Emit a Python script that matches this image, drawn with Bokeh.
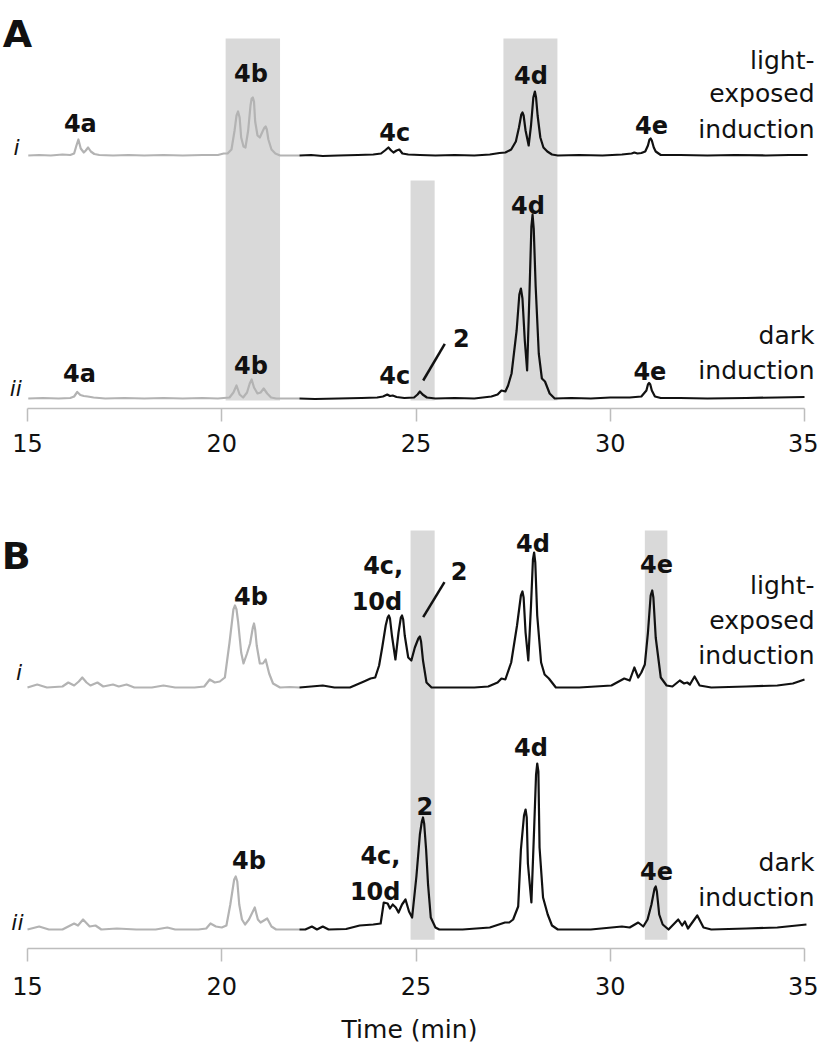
from bokeh.plotting import figure
from bokeh.layouts import column
from bokeh.models import Range1d, FixedTicker
from bokeh.core.properties import value
from bokeh.embed import file_html
from bokeh.resources import INLINE

# ---------------- data (time in min, intensity in arbitrary units) ----------------
TICKS = [15, 20, 25, 30, 35]
SPLIT = 22.0  # gray before, black after

# Panel A, trace i (light-exposed induction)
a1_t = [15.02, 15.3, 15.6, 15.9, 16.1, 16.2, 16.26, 16.31, 16.37, 16.45, 16.5, 16.56, 16.63, 16.72, 16.85,
        17.2, 17.6, 18.0, 18.5, 19.0, 19.5, 19.9, 20.05, 20.15, 20.25, 20.33, 20.38, 20.42, 20.46, 20.5,
        20.56, 20.61, 20.68, 20.74, 20.77, 20.80, 20.83, 20.86, 20.92, 20.98, 21.05, 21.1, 21.13, 21.16,
        21.2, 21.28, 21.38, 21.5, 21.75, 22.0,
        22.3, 22.6, 23.0, 23.5, 23.9, 24.1, 24.2, 24.29, 24.36, 24.42, 24.5, 24.57, 24.65, 24.8, 25.1,
        25.5, 26.0, 26.5, 26.9, 27.15, 27.3, 27.45, 27.57, 27.65, 27.71, 27.74, 27.77, 27.82, 27.90, 27.96,
        28.02, 28.06, 28.09, 28.13, 28.2, 28.28, 28.38, 28.5, 28.65, 29.2, 29.8, 30.3, 30.55, 30.62, 30.7,
        30.8, 30.9, 30.97, 31.01, 31.04, 31.07, 31.12, 31.17, 31.3, 31.8, 32.5, 33.2, 34.0, 34.6, 35.08]
a1_v = [0, 0.5, 0, 1, 0.5, 2, 10, 16, 7, 3, 5, 8, 4, 1.5, 0.5,
        0, 0.5, 0, 0.5, 0, 0.5, 0.5, 2, 2, 6, 25, 40, 44, 38, 18,
        9, 8, 25, 50, 57, 58, 54, 34, 20, 18, 24, 28, 29, 26,
        16, 6, 2, 0, 0, 0,
        0.5, -0.5, 0, 0.5, 1, 2, 5, 8, 5, 3, 5, 6, 2, 1, 0.5,
        0, 0.5, 0, 1, 2.5, 3, 6, 14, 28, 41, 43, 40, 25, 10, 30,
        58, 64, 58, 40, 18, 8, 4, 1, 0, 0.5, 0, 1, 2, 3, 2,
        2.5, 4, 10, 16, 17, 15, 8, 4, 0.5, 0.5, 0, 0.5, 0, 0.5, 0.5]

# Panel A, trace ii (dark induction)
a2_t = [15.02, 15.4, 15.8, 16.1, 16.2, 16.28, 16.36, 16.45, 16.55, 16.7, 17.0, 17.5, 18.0, 18.5, 19.0,
        19.5, 19.9, 20.2, 20.3, 20.38, 20.46, 20.55, 20.65, 20.72, 20.77, 20.83, 20.92, 21.0, 21.08, 21.17,
        21.27, 21.4, 21.7, 22.0,
        22.4, 23.0, 23.6, 24.0, 24.15, 24.26, 24.33, 24.4, 24.5, 24.7, 24.95, 25.04, 25.1, 25.17, 25.28,
        25.5, 26.0, 26.5, 26.94, 27.1, 27.2, 27.3, 27.37, 27.46, 27.59, 27.66, 27.70, 27.74, 27.80, 27.86,
        27.93, 27.97, 28.0, 28.03, 28.08, 28.16, 28.24, 28.32, 28.44, 28.57, 29.0, 29.5, 30.0, 30.5, 30.8,
        30.93, 30.97, 31.0, 31.03, 31.07, 31.15, 31.3, 31.8, 32.5, 33.5, 34.3, 35.0]
a2_v = [0, 0.5, 0, 0.5, 2, 6.5, 3.5, 2.5, 2, 1, 0, 0.5, 0, 0.5, 0,
        0.5, 0, 1, 6, 13, 4, 1, 6, 15, 19, 11, 5, 6, 10, 5,
        1, 0, 0, 0,
        -0.5, 0, 0.5, 1, 2, 4, 2.5, 3, 1.5, 0.5, 1, 4, 7, 4, 1,
        0, 0.5, 0, 2, 4, 8, 7, 13, 25, 68, 104, 110, 100, 58, 28,
        118, 172, 184, 170, 112, 45, 20, 17, 5, 0, 0.5, 0, 1, 1, 2,
        8, 14, 15.5, 14, 8, 2, 0.5, 0.5, 0, 0.5, 1, 1.5]

# Panel B, trace i (light-exposed induction)
b1_t = [15.0, 15.25, 15.5, 15.9, 16.05, 16.2, 16.32, 16.41, 16.52, 16.62, 16.8, 16.95, 17.2, 17.35, 17.55,
        17.75, 18.2, 18.5, 18.8, 19.3, 19.55, 19.69, 19.82, 19.95, 20.08, 20.2, 20.3, 20.34, 20.38, 20.42,
        20.5, 20.56, 20.65, 20.73, 20.8, 20.83, 20.86, 20.9, 20.98, 21.06, 21.13, 21.22, 21.32, 21.5, 21.75,
        22.0,
        22.3, 22.6, 22.9, 23.3, 23.66, 23.83, 23.95, 24.05, 24.13, 24.22, 24.27, 24.30, 24.33, 24.38, 24.47,
        24.55, 24.61, 24.64, 24.67, 24.71, 24.8, 24.88, 24.97, 25.06, 25.10, 25.13, 25.18, 25.27, 25.4, 26.0,
        26.5, 26.86, 27.1, 27.2, 27.3, 27.45, 27.6, 27.70, 27.74, 27.77, 27.82, 27.89, 27.96, 28.01, 28.04,
        28.07, 28.12, 28.22, 28.31, 28.42, 28.6, 29.2, 30.03, 30.36, 30.5, 30.62, 30.72, 30.8, 30.89, 30.97,
        31.04, 31.08, 31.11, 31.17, 31.3, 31.45, 31.6, 31.79, 31.9, 31.98, 32.05, 32.17, 32.3, 32.6, 33.5,
        34.3, 34.7, 35.0]
b1_v = [0, 3, 0, 1, 5, 2, 6, 10, 5, 2, 5, 1, 3, 1, 3,
        0, 0, 2, 0, 0, 1, 8, 5, 6, 10, 45, 78, 82, 78, 66,
        35, 24, 34, 44, 60, 64, 58, 42, 24, 24, 28, 14, 4, 0, 0.5,
        0,
        1, 2, 0, 0, 6, 9, 10, 22, 40, 62, 70, 72, 69, 52, 28,
        55, 70, 72, 68, 52, 30, 27, 40, 49, 51, 46, 27, 5, 0, 0,
        0, 1, 5, 9, 8, 25, 62, 92, 96, 90, 55, 27, 82, 128, 135,
        125, 72, 25, 13, 9, 0, 0, 2, 9, 7, 20, 10, 15, 23, 55,
        92, 97, 90, 50, 10, 2, 1, 7, 4, 5, 3, 11, 2, 0, 1,
        2, 4, 8]

# Panel B, trace ii (dark induction)
b2_t = [15.0, 15.3, 15.55, 15.9, 16.2, 16.3, 16.43, 16.6, 16.75, 16.9, 17.3, 17.8, 18.3, 18.6, 18.8,
        19.4, 19.6, 19.71, 19.85, 20.0, 20.12, 20.22, 20.32, 20.36, 20.4, 20.45, 20.52, 20.6, 20.7, 20.85,
        20.93, 21.0, 21.17, 21.28, 21.4, 21.7, 22.0,
        22.15, 22.32, 22.45, 22.6, 22.75, 23.2, 23.55, 23.9, 24.09, 24.17, 24.27, 24.33, 24.4, 24.48, 24.55,
        24.64, 24.73, 24.82, 24.9, 25.01, 25.1, 25.15, 25.18, 25.21, 25.26, 25.31, 25.38, 25.5, 25.6, 26.2,
        26.9, 27.29, 27.4, 27.5, 27.63, 27.70, 27.78, 27.82, 27.85, 27.88, 27.97, 28.04, 28.09, 28.12, 28.15,
        28.18, 28.27, 28.39, 28.5, 28.65, 29.5, 30.3, 30.5, 30.72, 30.85, 30.96, 31.06, 31.14, 31.17, 31.2,
        31.26, 31.35, 31.5, 31.75, 31.85, 31.92, 32.0, 32.24, 32.4, 32.6, 33.5, 34.3, 35.05]
b2_v = [0, 3, 0, 0, 6, 4, 10, 3, 4, 0, 1, 0, 0, 2, 0,
        0, 1, 6, 3, 2, 4, 25, 50, 53, 48, 25, 10, 5, 10, 22,
        10, 7, 11, 3, 0, 0, 0,
        0, 3, 0, 3, 0, 0.5, 4, 5, 6, 27, 26, 21, 25, 22, 17,
        25, 30, 18, 12, 53, 95, 108, 112, 106, 80, 45, 12, 2, 0, 0,
        2, 7, 7, 10, 23, 80, 114, 120, 112, 66, 27, 100, 155, 166, 158,
        82, 32, 15, 4, 0, 0, 3, 2, 7, 3, 10, 25, 41, 43, 38,
        15, 5, 0, 10, 4, 8, 1, 14, 2, 0, 1, 2, 5]

# highlighted retention windows (min)
a_band_left = [20.1, 27.25, 24.86]
a_band_right = [21.5, 28.64, 25.48]
b_band_left = [24.86, 30.89]
b_band_right = [25.48, 31.47]

# ---------------- styling / layout ----------------
GRAY = "#b3b3b3"
BLACK = "#111111"
BAND = "#d9d9d9"
AXIS = "#bdbdbd"
FONT = value("DejaVu Sans")
X0, X1 = 14.305, 35.36


def split(t, v, off):
    g = [(a, b + off) for a, b in zip(t, v) if a <= SPLIT]
    k = [(a, b + off) for a, b in zip(t, v) if a >= SPLIT]
    return g, k


def make_fig(height, frame_h, bottom, standoff):
    p = figure(width=818, height=height, x_range=Range1d(X0, X1), y_range=Range1d(0, frame_h),
               output_backend="svg", toolbar_location=None, y_axis_location=None,
               min_border_left=0, min_border_right=0, min_border_top=0, min_border_bottom=bottom,
               outline_line_color=None, background_fill_color=None, border_fill_color="white")
    p.xgrid.visible = False
    p.ygrid.visible = False
    ax = p.xaxis[0]
    ax.ticker = FixedTicker(ticks=TICKS)
    ax.bounds = (15, 35)
    ax.axis_line_color = AXIS
    ax.axis_line_width = 1.5
    ax.major_tick_line_color = AXIS
    ax.major_tick_line_width = 1.5
    ax.major_tick_out = 13
    ax.major_tick_in = 0
    ax.minor_tick_out = 0
    ax.minor_tick_in = 0
    ax.major_label_text_font = "DejaVu Sans"
    ax.major_label_text_font_size = "24px"
    ax.major_label_text_color = BLACK
    ax.major_label_standoff = standoff
    return p


def draw_trace(p, t, v, off):
    g, k = split(t, v, off)
    p.line([a for a, _ in g], [b for _, b in g], line_color=GRAY, line_width=2.2, line_join="round")
    p.line([a for a, _ in k], [b for _, b in k], line_color=BLACK, line_width=2.2, line_join="round")


def labels(p, xs, ys, texts, size, style="bold", align="center", font=FONT):
    p.text(x=xs, y=ys, text=texts, text_font=font, text_font_size=size, text_font_style=style,
           text_align=align, text_baseline="alphabetic", text_color=BLACK)


# ---------------- panel A ----------------
pA = make_fig(460, 408, 52, 12)
pA.quad(left=a_band_left, right=a_band_right, bottom=[8, 8, 8], top=[370, 370, 228],
        fill_color=BAND, line_color=None)
draw_trace(pA, a1_t, a1_v, 253)
draw_trace(pA, a2_t, a2_v, 10)
labels(pA, [14.36], [375], ["A"], "38px", align="left")
labels(pA, [16.36, 20.75, 24.45, 27.96, 31.06, 16.34, 20.75, 24.45, 26.17, 27.88, 31.02],
       [285, 335, 276, 333, 284, 35, 43, 33, 71, 203, 38],
       ["4a", "4b", "4c", "4d", "4e", "4a", "4b", "4c", "2", "4d", "4e"], "24px")
labels(pA, [14.72, 14.70], [261, 20], ["i", "ii"], "22px", style="italic")
labels(pA, [35.257] * 5, [348, 315.5, 279, 73, 38],
       ["light-", "exposed", "induction", "dark", "induction"], "25px", style="normal", align="right")
pA.line([25.741, 25.185], [64.7, 28], line_color=BLACK, line_width=2.5)

# ---------------- panel B ----------------
pB = make_fig(588, 488, 100, 15)
pB.quad(left=b_band_left, right=b_band_right, bottom=[8.7, 8.7], top=[418, 418],
        fill_color=BAND, line_color=None)
draw_trace(pB, b1_t, b1_v, 261)
draw_trace(pB, b2_t, b2_v, 19)
labels(pB, [14.34], [393], ["B"], "38px", align="left")
labels(pB, [20.75, 26.11, 28.01, 31.19, 20.70, 25.23, 27.96, 31.19],
       [351.3, 378, 404.7, 384.7, 88, 143, 201, 78],
       ["4b", "2", "4d", "4e", "4b", "2", "4d", "4e"], "24px")
labels(pB, [24.67, 24.645, 24.60, 24.60], [383, 346.3, 93, 56.3],
       ["4c,", "10d", "4c,", "10d"], "24px", align="right")
labels(pB, [14.78, 14.74], [276, 26.3], ["i", "ii"], "22px", style="italic")
labels(pB, [35.257] * 5, [363, 328, 293, 86.3, 51.3],
       ["light-", "exposed", "induction", "dark", "induction"], "25px", style="normal", align="right")
pB.line([25.733, 25.185], [366.3, 331.3], line_color=BLACK, line_width=2.5)
axB = pB.xaxis[0]
axB.axis_label = "Time (min)"
axB.axis_label_text_font = "DejaVu Sans"
axB.axis_label_text_font_size = "25px"
axB.axis_label_text_font_style = "normal"
axB.axis_label_text_color = BLACK
axB.axis_label_standoff = 17

layout = column(pA, pB, spacing=0)
open("out.html", "w").write(file_html(layout, INLINE))
